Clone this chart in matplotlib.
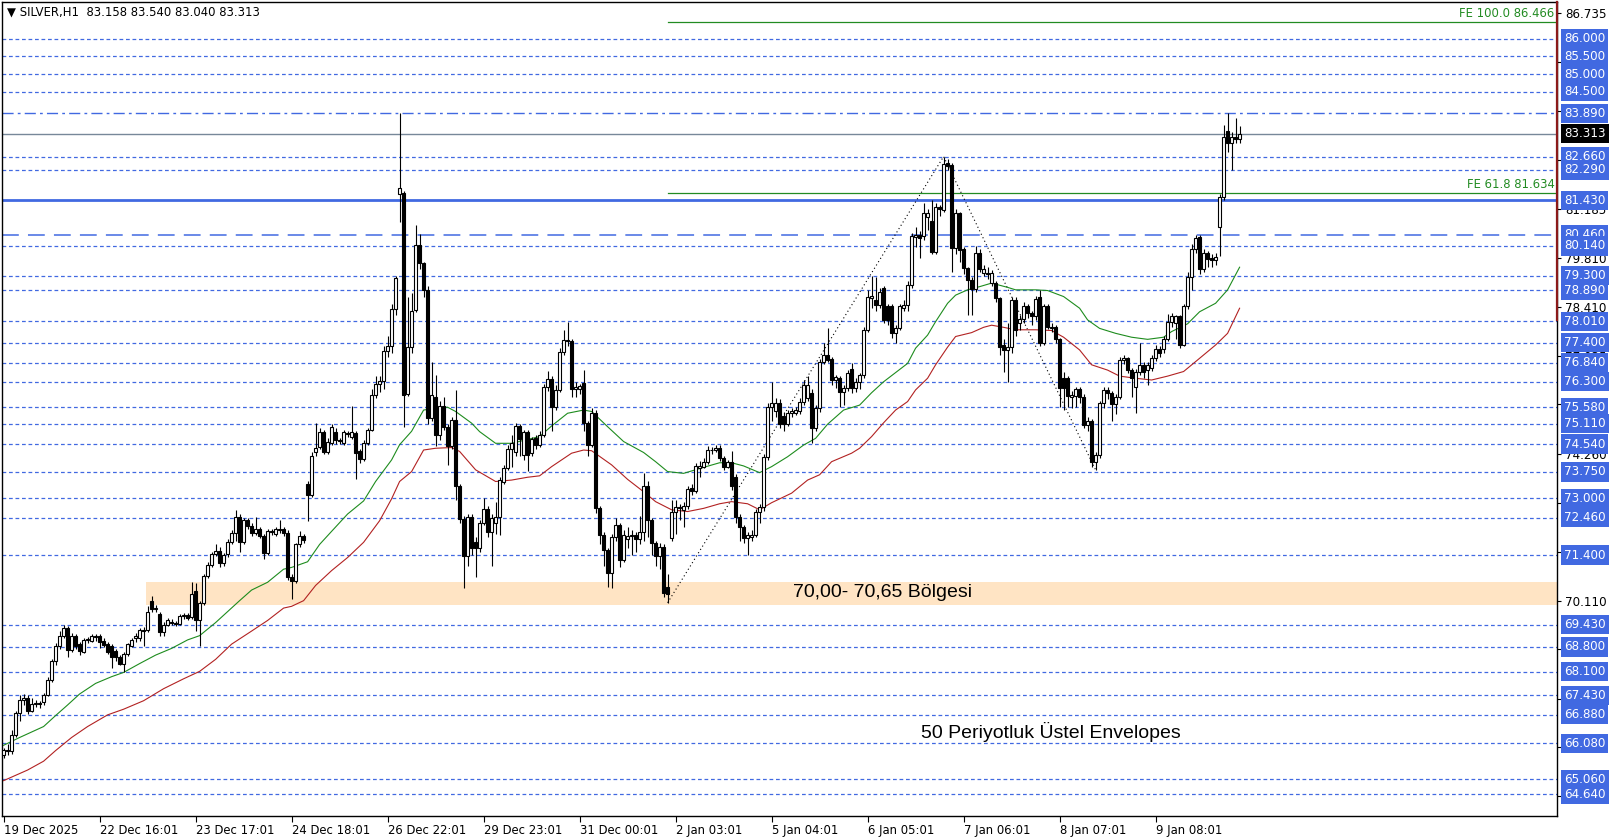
import numpy as np
import matplotlib.pyplot as plt

# hourly SILVER candles
opens = [65.75, 65.88, 65.85, 66.30, 66.92, 67.29, 67.36, 67.00, 67.20, 67.22,
         67.25, 67.44, 67.86, 68.39, 68.82, 69.12, 69.33, 68.72, 69.12, 68.88,
         68.67, 69.00, 68.98, 69.10, 69.10, 68.96, 68.88, 68.82, 68.70, 68.51,
         68.33, 68.60, 68.84, 69.05, 69.05, 69.28, 69.28, 70.10, 69.86, 69.74,
         69.21, 69.43, 69.52, 69.48, 69.46, 69.68, 69.70, 69.65, 70.38, 69.55,
         70.04, 70.80, 71.11, 71.42, 71.52, 71.17, 71.42, 71.76, 72.03, 72.47,
         71.76, 72.40, 72.23, 72.03, 72.15, 71.94, 71.45, 72.07, 72.00, 72.13,
         72.13, 72.03, 70.78, 70.66, 71.70, 71.94, 73.42, 73.11, 74.31, 74.46,
         74.89, 74.31, 74.58, 74.89, 74.64, 74.58, 74.85, 74.73, 74.85, 74.33,
         74.12, 74.58, 74.95, 75.93, 76.24, 76.32, 77.16, 77.30, 78.36, 81.61,
         81.63, 75.95, 77.29, 78.33, 80.17, 79.65, 78.90, 75.27, 75.88, 74.80,
         75.62, 75.03, 74.47, 75.22, 73.34, 72.41, 71.37, 72.47, 71.78, 71.59,
         72.32, 72.70, 72.06, 72.32, 72.47, 73.47, 73.85, 74.39, 74.32, 75.05,
         74.23, 74.89, 74.28, 74.70, 74.51, 74.80, 76.15, 76.37, 75.58, 76.07,
         77.15, 77.48, 77.44, 76.09, 76.09, 76.26, 75.13, 74.51, 75.43, 72.72,
         71.97, 71.54, 70.90, 71.92, 72.25, 71.26, 71.85, 71.94, 71.97, 71.85,
         72.06, 73.36, 72.39, 71.73, 71.37, 71.64, 70.50, 71.87, 72.63, 72.77,
         72.68, 72.79, 73.29, 73.22, 73.85, 73.90, 74.04, 74.37, 74.36, 74.42,
         74.14, 73.90, 74.02, 73.62, 72.47, 72.19, 71.87, 71.92, 71.97, 72.63,
         72.75, 74.18, 75.60, 75.46, 75.69, 75.33, 75.11, 75.41, 75.41, 75.48,
         75.74, 75.83, 75.99, 74.98, 75.55, 76.87, 77.06, 76.94, 76.35, 76.40,
         76.02, 76.12, 76.65, 76.12, 76.30, 76.49, 77.77, 78.66, 78.61, 78.47,
         78.94, 78.43, 78.44, 77.67, 77.81, 78.38, 78.47, 79.04, 80.40, 80.45,
         80.42, 80.97, 80.86, 79.98, 81.23, 81.16, 82.50, 82.43, 80.08, 81.06,
         80.06, 79.51, 79.18, 78.91, 79.95, 79.37, 79.39, 79.09, 79.09, 78.66,
         77.34, 77.20, 77.29, 78.61, 77.95, 78.07, 78.44, 78.24, 78.16, 78.71,
         77.41, 78.44, 77.86, 77.86, 77.50, 76.40, 76.40, 75.88, 75.90, 76.09,
         75.88, 75.08, 75.20, 74.04, 74.23, 75.69, 76.07, 75.98, 75.67, 75.88,
         76.92, 76.96, 76.63, 76.14, 76.59, 76.78, 76.62, 76.68, 76.96, 77.22,
         77.22, 77.50, 78.00, 77.95, 78.16, 77.34, 78.43, 79.27, 80.05, 80.39,
         79.48, 79.93, 79.79, 79.74, 80.67, 81.52, 83.40, 83.04, 83.21, 83.158]
highs = [65.95, 66.05, 66.45, 67.00, 67.45, 67.46, 67.44, 67.35, 67.30, 67.28,
         67.50, 67.95, 68.45, 68.90, 69.25, 69.43, 69.40, 69.20, 69.18, 68.95,
         69.05, 69.08, 69.18, 69.16, 69.18, 69.05, 68.95, 68.88, 68.75, 68.58,
         68.65, 68.92, 69.05, 69.20, 69.35, 69.36, 69.95, 70.25, 69.98, 69.80,
         69.50, 69.62, 69.58, 69.54, 69.74, 69.76, 69.75, 70.65, 70.60, 70.10,
         70.85, 71.20, 71.50, 71.70, 71.62, 71.45, 71.85, 72.10, 72.68, 72.55,
         72.45, 72.45, 72.30, 72.47, 72.20, 72.00, 72.15, 72.15, 72.18, 72.40,
         72.20, 72.10, 70.85, 71.75, 72.08, 72.00, 73.50, 74.30, 75.13, 75.00,
         74.95, 74.70, 75.10, 74.98, 74.70, 74.95, 74.90, 75.62, 74.92, 74.40,
         74.65, 75.00, 76.10, 76.45, 76.45, 77.30, 77.60, 78.50, 79.30, 83.89,
         81.70, 78.70, 78.80, 80.73, 80.48, 79.70, 79.00, 76.87, 76.49, 75.75,
         75.88, 75.10, 75.30, 76.07, 73.40, 72.50, 72.55, 72.55, 71.90, 72.40,
         73.00, 72.78, 72.55, 72.90, 73.60, 73.95, 74.50, 74.80, 75.12, 75.10,
         74.95, 74.95, 74.75, 74.80, 74.90, 76.25, 76.60, 76.45, 76.20, 77.25,
         77.75, 78.00, 77.50, 76.30, 76.25, 76.63, 75.20, 75.55, 75.50, 72.80,
         72.05, 71.60, 72.00, 72.45, 72.30, 72.10, 72.20, 72.10, 72.05, 72.50,
         73.71, 73.50, 72.45, 71.80, 71.75, 71.70, 70.85, 72.95, 72.95, 72.85,
         72.90, 73.35, 73.40, 74.00, 74.05, 74.15, 74.48, 74.45, 74.50, 74.50,
         74.20, 74.10, 74.35, 73.70, 72.55, 72.25, 72.05, 72.10, 72.70, 72.85,
         74.25, 75.70, 76.30, 75.85, 75.80, 75.45, 75.50, 75.55, 75.60, 75.85,
         76.35, 76.45, 76.10, 75.65, 76.95, 77.39, 77.81, 77.00, 76.50, 76.45,
         76.20, 76.62, 76.82, 76.40, 76.55, 77.85, 78.90, 79.29, 79.27, 78.95,
         79.00, 78.50, 78.50, 77.90, 78.50, 78.60, 79.15, 80.50, 80.69, 80.55,
         81.35, 81.20, 81.45, 81.35, 81.30, 82.67, 82.59, 82.50, 81.20, 81.10,
         80.10, 79.55, 79.25, 80.15, 80.05, 79.60, 79.55, 79.45, 79.15, 78.70,
         77.50, 77.95, 78.70, 78.70, 78.20, 78.55, 78.50, 78.30, 78.72, 78.90,
         78.50, 78.50, 77.95, 77.90, 77.55, 76.59, 76.45, 76.05, 76.15, 76.15,
         75.95, 75.30, 75.25, 74.30, 75.75, 76.15, 76.15, 76.05, 75.95, 77.00,
         77.05, 77.00, 76.70, 76.65, 77.41, 76.85, 76.85, 77.05, 77.35, 77.30,
         77.60, 78.22, 78.25, 78.20, 78.20, 78.50, 79.40, 80.20, 80.45, 80.45,
         80.05, 80.00, 79.90, 79.95, 81.60, 83.56, 83.91, 83.35, 83.75, 83.54]
lows = [65.65, 65.75, 65.78, 66.25, 66.70, 67.15, 66.90, 66.95, 67.10, 67.08,
        67.15, 67.40, 67.80, 68.30, 68.75, 69.05, 68.51, 68.65, 68.75, 68.57,
        68.62, 68.92, 68.95, 68.98, 68.78, 68.80, 68.60, 68.20, 68.40, 68.28,
        68.10, 68.55, 68.80, 68.95, 68.98, 68.82, 69.22, 69.78, 69.78, 69.10,
        69.10, 69.40, 69.42, 69.40, 69.42, 69.60, 69.55, 69.60, 69.25, 68.82,
        69.98, 70.75, 71.05, 71.38, 71.05, 71.10, 71.35, 71.70, 71.80, 71.50,
        71.70, 72.15, 71.95, 71.98, 71.88, 71.30, 71.40, 71.98, 71.95, 72.02,
        71.95, 70.70, 70.15, 70.60, 71.62, 71.75, 72.35, 73.05, 74.20, 74.40,
        74.25, 74.25, 74.50, 74.55, 74.55, 74.52, 74.75, 74.68, 73.54, 74.00,
        74.05, 74.50, 74.90, 75.85, 76.00, 76.10, 77.00, 77.10, 78.20, 80.83,
        75.01, 75.90, 77.10, 78.28, 79.50, 78.69, 75.10, 75.20, 74.47, 74.65,
        74.95, 73.95, 74.40, 72.96, 72.30, 70.46, 71.10, 71.40, 70.79, 71.50,
        72.25, 71.92, 71.10, 72.00, 71.97, 73.40, 73.80, 73.90, 74.20, 74.20,
        74.10, 73.79, 74.20, 74.40, 74.45, 74.75, 76.05, 74.90, 75.50, 76.00,
        77.05, 77.30, 75.88, 75.88, 75.95, 74.90, 74.20, 74.45, 72.60, 71.70,
        71.10, 70.50, 70.46, 71.80, 71.05, 71.20, 71.60, 71.40, 71.50, 71.70,
        71.80, 71.90, 71.40, 71.10, 71.00, 70.20, 70.05, 71.80, 72.00, 72.40,
        72.20, 72.70, 73.10, 73.15, 73.60, 73.85, 73.98, 74.25, 74.30, 74.05,
        73.80, 73.85, 73.25, 72.30, 71.80, 71.75, 71.40, 71.80, 71.90, 72.30,
        72.65, 74.10, 75.20, 75.30, 75.00, 74.90, 75.05, 75.30, 75.35, 75.40,
        75.65, 75.75, 74.56, 74.90, 75.45, 76.80, 76.85, 76.20, 76.12, 75.60,
        75.65, 76.05, 75.97, 76.00, 76.10, 76.40, 77.70, 78.40, 78.30, 78.40,
        77.95, 77.90, 77.55, 77.39, 77.75, 78.30, 78.30, 78.95, 80.10, 79.80,
        80.30, 80.60, 79.90, 79.90, 81.00, 81.10, 82.30, 79.40, 79.90, 79.70,
        79.35, 78.20, 78.19, 78.85, 79.40, 79.30, 79.20, 79.00, 78.55, 77.06,
        76.59, 76.30, 77.10, 77.60, 77.75, 77.95, 78.10, 77.90, 78.05, 77.30,
        77.35, 77.80, 77.70, 77.40, 75.60, 75.50, 75.60, 75.55, 75.60, 75.70,
        75.00, 74.90, 73.90, 73.81, 74.15, 75.55, 75.80, 75.20, 75.40, 75.80,
        76.80, 76.55, 75.88, 75.41, 76.50, 76.40, 76.20, 76.60, 76.90, 77.00,
        77.10, 77.45, 77.85, 77.50, 77.25, 77.30, 78.35, 78.90, 79.95, 79.35,
        79.40, 79.55, 79.55, 79.60, 79.85, 81.45, 82.81, 82.29, 83.05, 83.04]
closes = [65.88, 65.85, 66.30, 66.92, 67.29, 67.36, 66.98, 67.20, 67.22, 67.20,
          67.44, 67.86, 68.39, 68.82, 69.12, 69.33, 68.72, 69.12, 68.82, 68.70,
          69.00, 69.02, 69.10, 69.08, 68.94, 68.86, 68.67, 68.51, 68.51, 68.33,
          68.60, 68.88, 69.00, 69.10, 69.28, 69.25, 69.80, 69.86, 69.90, 69.21,
          69.43, 69.55, 69.49, 69.46, 69.68, 69.70, 69.61, 70.31, 69.55, 70.04,
          70.80, 71.11, 71.42, 71.52, 71.17, 71.39, 71.76, 72.03, 72.47, 71.76,
          72.40, 72.23, 72.03, 72.15, 71.94, 71.45, 72.07, 72.05, 72.13, 72.10,
          72.03, 70.78, 70.66, 71.70, 71.94, 71.82, 73.11, 74.21, 74.43, 74.89,
          74.31, 74.61, 75.01, 74.64, 74.62, 74.89, 74.83, 74.89, 74.28, 74.12,
          74.58, 74.95, 75.93, 76.24, 76.32, 77.16, 77.30, 78.36, 79.24, 81.78,
          75.93, 77.29, 78.30, 80.17, 79.65, 78.90, 75.27, 75.93, 74.80, 75.62,
          75.03, 74.47, 75.22, 73.34, 72.41, 71.37, 72.47, 71.59, 71.59, 72.32,
          72.70, 72.06, 72.45, 72.47, 73.52, 73.85, 74.39, 74.56, 75.05, 74.67,
          74.89, 74.23, 74.67, 74.51, 74.80, 76.15, 76.37, 75.58, 76.07, 77.15,
          77.48, 77.44, 76.09, 76.16, 76.18, 75.13, 74.51, 75.43, 72.72, 71.97,
          71.54, 70.90, 71.92, 72.25, 71.26, 71.97, 71.94, 71.97, 71.85, 72.06,
          73.36, 72.39, 71.73, 71.37, 71.64, 70.34, 70.30, 72.63, 72.77, 72.72,
          72.79, 73.26, 73.22, 73.92, 73.92, 74.04, 74.37, 74.36, 74.42, 74.14,
          73.90, 74.02, 73.36, 72.47, 72.19, 71.87, 71.97, 71.97, 72.63, 72.75,
          74.18, 75.60, 75.69, 75.69, 75.11, 75.11, 75.41, 75.46, 75.50, 75.74,
          76.21, 76.21, 74.98, 75.55, 76.87, 77.06, 76.92, 76.35, 76.43, 76.02,
          76.12, 76.54, 76.12, 76.28, 76.49, 77.77, 78.71, 78.73, 78.47, 78.85,
          78.05, 78.05, 77.67, 77.81, 78.43, 78.47, 79.04, 80.42, 80.45, 80.36,
          81.06, 81.06, 79.98, 81.23, 81.18, 82.46, 82.40, 80.08, 81.06, 80.03,
          79.51, 79.18, 78.91, 79.95, 79.48, 79.48, 79.35, 79.37, 78.66, 77.29,
          77.20, 77.29, 78.61, 77.77, 78.07, 78.44, 78.24, 78.16, 78.63, 77.41,
          78.43, 77.86, 77.81, 77.50, 76.12, 76.12, 75.90, 75.92, 76.09, 75.88,
          75.08, 75.20, 74.04, 74.23, 75.69, 76.07, 75.98, 75.67, 75.88, 76.92,
          76.96, 76.63, 76.40, 76.59, 76.78, 76.59, 76.78, 76.96, 77.22, 77.11,
          77.50, 78.00, 78.16, 78.16, 77.34, 78.43, 79.27, 80.05, 80.36, 79.48,
          79.93, 79.76, 79.74, 79.82, 81.52, 83.21, 83.04, 83.21, 83.16, 83.313]

# 50-period exponential envelopes (upper green, lower red), read at bar positions
green_x = [0, 4, 10, 13, 16, 19, 23, 27, 30, 34, 38, 42, 46, 49, 53, 56, 59, 62, 66, 70,
           72, 76, 79, 82, 86, 90, 93, 97, 99, 102, 105, 108, 111, 113, 117, 119, 123, 127,
           131, 134, 137, 141, 145, 147, 151, 155, 160, 163, 166, 170, 175, 179, 182, 185,
           189, 192, 196, 200, 203, 206, 210, 214, 217, 220, 223, 226, 228, 231, 233, 236,
           238, 241, 244, 247, 251, 253, 258, 261, 265, 269, 271, 274, 278, 282, 286, 290,
           292, 296, 299, 303, 306, 309]
green_y = [66.02, 66.24, 66.55, 66.86, 67.16, 67.47, 67.77, 67.96, 68.08, 68.33, 68.57,
           68.76, 69.00, 69.12, 69.49, 69.80, 70.11, 70.41, 70.63, 71.00, 71.05, 71.21,
           71.70, 72.07, 72.56, 72.93, 73.48, 74.09, 74.52, 74.90, 75.50, 75.55, 75.58,
           75.46, 75.13, 74.89, 74.56, 74.56, 74.67, 74.75, 75.05, 75.41, 75.50, 75.46,
           75.03, 74.61, 74.30, 74.04, 73.76, 73.71, 73.88, 74.01, 74.01, 73.92, 73.73,
           73.90, 74.18, 74.51, 74.70, 75.10, 75.50, 75.64, 75.99, 76.30, 76.56, 76.82,
           77.25, 77.62, 78.00, 78.52, 78.75, 78.90, 78.99, 79.09, 78.97, 78.90, 78.90,
           78.88, 78.71, 78.38, 78.05, 77.81, 77.67, 77.56, 77.50, 77.56, 77.72, 77.94,
           78.28, 78.52, 78.90, 79.54]
red_x = [0, 6, 10, 13, 17, 21, 26, 30, 35, 40, 45, 49, 53, 57, 62, 66, 70, 72, 75, 78,
         82, 86, 90, 94, 97, 99, 102, 105, 108, 112, 114, 118, 123, 127, 131, 134, 137,
         142, 145, 147, 152, 156, 160, 163, 167, 171, 175, 179, 182, 186, 189, 192, 197,
         201, 204, 207, 212, 214, 217, 220, 223, 226, 228, 231, 233, 236, 238, 242, 245,
         247, 250, 253, 258, 262, 265, 269, 272, 276, 279, 283, 287, 291, 295, 298, 303,
         306, 309]
red_y = [65.02, 65.32, 65.57, 65.87, 66.24, 66.55, 66.88, 67.04, 67.28, 67.62, 67.90,
         68.11, 68.45, 68.88, 69.25, 69.55, 69.90, 69.95, 70.11, 70.54, 70.96, 71.33,
         71.76, 72.37, 72.99, 73.48, 73.76, 74.37, 74.42, 74.44, 74.33, 73.81, 73.48,
         73.52, 73.60, 73.64, 73.90, 74.28, 74.37, 74.35, 73.95, 73.54, 73.19, 72.91,
         72.68, 72.63, 72.72, 72.85, 72.91, 72.85, 72.68, 72.88, 73.15, 73.52, 73.67,
         74.04, 74.28, 74.42, 74.75, 75.14, 75.50, 75.74, 76.07, 76.40, 76.78, 77.28,
         77.58, 77.69, 77.84, 77.90, 77.84, 77.77, 77.77, 77.75, 77.56, 77.20, 76.78,
         76.63, 76.46, 76.40, 76.35, 76.46, 76.59, 76.87, 77.34, 77.67, 78.38]

# horizontal levels with their right-hand labels
levels = [86.000, 85.500, 85.000, 84.500, 83.890, 82.660, 82.290, 81.430, 80.460, 80.140,
          79.300, 78.890, 78.010, 77.400, 76.840, 76.300, 75.580, 75.110, 74.540, 73.750,
          73.000, 72.460, 71.400, 69.430, 68.800, 68.100, 67.430, 66.880, 66.080, 65.060,
          64.640]
price_ticks = [86.735, 85.335, 83.960, 82.585, 81.185, 79.810, 78.410, 77.035, 75.660,
               74.260, 72.885, 71.485, 70.110, 68.735, 67.335, 65.960, 64.585]
date_bars = [0, 24, 48, 72, 96, 120, 144, 168, 192, 216, 240, 264, 288]
date_labels = ['19 Dec 2025', '22 Dec 16:01', '23 Dec 17:01', '24 Dec 18:01',
               '26 Dec 22:01', '29 Dec 23:01', '31 Dec 00:01', '2 Jan 03:01',
               '5 Jan 04:01', '6 Jan 05:01', '7 Jan 06:01', '8 Jan 07:01', '9 Jan 08:01']

# fibonacci expansion points and levels
fe_x = [166, 235, 273]
fe_y = [70.05, 82.67, 73.81]
fe_levels = [86.466, 81.634]
fe_names = ['FE 100.0 86.466', 'FE 61.8 81.634']
zone_low, zone_high = 70.00, 70.65
bid = 83.313

BLUE = '#4169E1'
plt.rcParams['font.family'] = 'DejaVu Sans'

fig = plt.figure(figsize=(16.14, 8.40), dpi=100)
ax = fig.add_axes([2 / 1614, 24 / 840, 1555 / 1614, 814 / 840])
ax.set_xlim(-0.4, 388.35)
ax.set_ylim(64.02, 87.04)

x = np.arange(len(closes))
o = np.array(opens)
c = np.array(closes)

# zone
ax.fill_between([35.5, 388.35], zone_low, zone_high, color='#FFE4C4', lw=0, zorder=0)

# levels
for lv in levels:
    if lv == 83.890:
        ax.axhline(lv, color=BLUE, lw=1, ls=(0, (8, 3, 2, 3)), zorder=1)
    elif lv == 81.430:
        ax.axhline(lv, color=BLUE, lw=2, zorder=1)
    elif lv == 80.460:
        ax.axhline(lv, color=BLUE, lw=1.1, ls=(0, (11, 6)), zorder=1)
    else:
        ax.axhline(lv, color=BLUE, lw=0.9, ls=(0, (3, 2.2)), zorder=1)
ax.axhline(bid, color='#778899', lw=1, zorder=1)

for lv, name in zip(fe_levels, fe_names):
    ax.plot([fe_x[0], 388.35], [lv, lv], color='#228B22', lw=0.9, zorder=1)
    ax.text(387.7, lv + 0.07, name, color='#228B22', fontsize=8.4, ha='right', va='bottom')

ax.plot(fe_x, fe_y, color='black', lw=0.8, ls=(0, (1, 2.5)), zorder=2)

# envelopes
ax.plot(green_x, green_y, color='#1E8C1E', lw=0.8, zorder=2)
ax.plot(red_x, red_y, color='#B22222', lw=0.8, zorder=2)

# candles
ax.vlines(x, lows, highs, color='black', lw=0.8, zorder=3)
up = c >= o
bottom = np.minimum(o, c)
height = np.maximum(np.abs(c - o), 0.02)
ax.bar(x[up], height[up], bottom=bottom[up], width=0.72, color='white',
       edgecolor='black', linewidth=0.8, zorder=4)
ax.bar(x[~up], height[~up], bottom=bottom[~up], width=0.72, color='black',
       edgecolor='black', linewidth=0.8, zorder=4)

ax.text(219.8, 70.33, '70,00- 70,65 Bölgesi', fontsize=14, family='Liberation Sans',
        ha='center', va='center', zorder=5)
ax.text(261.9, 66.40, '50 Periyotluk Üstel Envelopes', fontsize=14,
        family='Liberation Sans', ha='center', va='center', zorder=5)

# axes
for s in ax.spines.values():
    s.set_color('black')
    s.set_linewidth(1)
ax.yaxis.tick_right()
ax.set_yticks(price_ticks)
ax.set_yticklabels([f'{t:.3f}' for t in price_ticks])
ax.tick_params(axis='y', length=3, width=0.8, pad=3, labelsize=8.6, colors='black')
ax.set_xticks(date_bars)
ax.set_xticklabels(date_labels)
ax.tick_params(axis='x', length=4, width=0.8, pad=2, labelsize=8.4)
for lab in ax.get_xticklabels():
    lab.set_ha('left')

ytr = ax.get_yaxis_transform()
for lv in levels:
    ax.text(1.0045, lv, f'{lv:.3f}', transform=ytr, fontsize=8.6, color='white',
            ha='left', va='center', clip_on=False, zorder=10,
            bbox=dict(boxstyle='square,pad=0.26', fc=BLUE, ec='none'))
ax.text(1.0045, bid, f'{bid:.3f}', transform=ytr, fontsize=8.6, color='white',
        ha='left', va='center', clip_on=False, zorder=10,
        bbox=dict(boxstyle='square,pad=0.26', fc='black', ec='none'))

ax.plot([1.0, 1.0], [(78.05 - 64.02) / 23.02, 1.0], transform=ax.transAxes,
        color='#8B1A1A', lw=1.6, clip_on=False, zorder=11)

fig.text(7 / 1614, 1 - 12 / 840, '\u25bc SILVER,H1  83.158 83.540 83.040 83.313',
         fontsize=8.4, ha='left', va='center')

fig.savefig('out.png', dpi=100)
